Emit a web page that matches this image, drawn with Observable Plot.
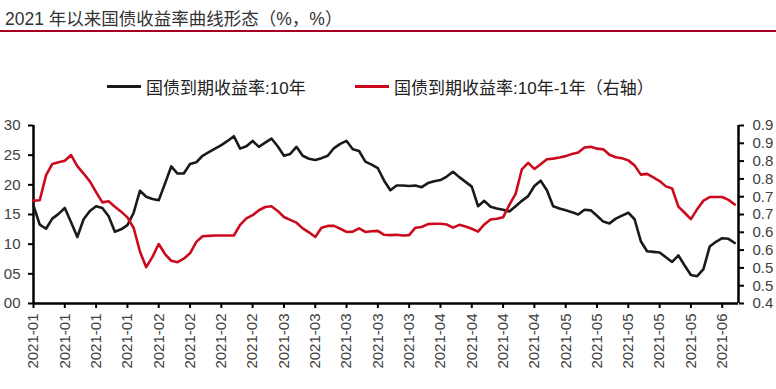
<!DOCTYPE html>
<html><head><meta charset="utf-8">
<script src="https://cdn.jsdelivr.net/npm/d3@7"></script>
<script src="https://cdn.jsdelivr.net/npm/@observablehq/plot@0.6"></script>
<style>
body{margin:0;background:#fff;width:776px;height:389px;overflow:hidden;position:relative;font-family:"Liberation Sans",Arial,"Noto Sans CJK SC",sans-serif;}
#title{position:absolute;left:5px;top:5px;font-size:17.5px;color:#333;white-space:nowrap;font-family:"Liberation Sans","Noto Sans CJK SC",sans-serif;}
#rule{position:absolute;left:0;top:30px;width:776px;height:2px;background:#a50021;}
.leg{position:absolute;top:74px;display:flex;align-items:center;font-size:17px;color:#222;white-space:nowrap;font-family:"Liberation Sans","Noto Sans CJK SC",sans-serif;}
.sw{display:inline-block;width:34px;height:3px;margin-right:5px;}
#chart{position:absolute;left:0;top:100px;}
</style></head>
<body>
<div id="title">2021 年以来国债收益率曲线形态（%，%）</div>
<div id="rule"></div>
<div class="leg" style="left:107px"><span class="sw" style="background:#1a1a1a"></span><span id="lg1"></span></div>
<div class="leg" style="left:355px"><span class="sw" style="background:#cc0a1e"></span><span id="lg2"></span></div>
<div id="chart"></div>
<script>
const seriesNames = ["国债到期收益率:10年", "国债到期收益率:10年-1年（右轴）"];
const yield10 = [
3.165,3.133,3.126,3.143,3.151,3.161,3.137,3.112,3.142,3.156,
3.164,3.161,3.147,3.121,3.125,3.132,3.153,3.190,3.180,3.176,
3.174,3.202,3.231,3.219,3.219,3.235,3.238,3.249,3.255,3.261,
3.267,3.274,3.282,3.261,3.265,3.274,3.264,3.271,3.278,3.265,
3.249,3.252,3.264,3.249,3.244,3.242,3.245,3.249,3.262,3.269,
3.274,3.260,3.257,3.239,3.234,3.228,3.207,3.191,3.199,3.199,
3.198,3.199,3.196,3.203,3.206,3.208,3.214,3.222,3.213,3.205,
3.197,3.164,3.173,3.163,3.160,3.158,3.155,3.164,3.173,3.181,
3.198,3.207,3.191,3.164,3.160,3.157,3.154,3.150,3.158,3.157,
3.148,3.138,3.135,3.143,3.148,3.153,3.142,3.105,3.088,3.087,
3.086,3.078,3.070,3.081,3.064,3.048,3.046,3.058,3.096,3.104,
3.110,3.109,3.102];
const spread = [
0.739,0.740,0.810,0.842,0.847,0.851,0.867,0.836,0.815,0.793,
0.763,0.734,0.737,0.722,0.708,0.692,0.662,0.596,0.552,0.581,
0.617,0.589,0.570,0.566,0.576,0.591,0.623,0.639,0.640,0.641,
0.641,0.641,0.641,0.671,0.689,0.698,0.712,0.721,0.723,0.710,
0.693,0.685,0.677,0.661,0.650,0.637,0.663,0.668,0.668,0.660,
0.651,0.652,0.661,0.651,0.653,0.654,0.643,0.642,0.643,0.641,
0.642,0.663,0.665,0.673,0.674,0.674,0.672,0.663,0.671,0.666,
0.660,0.652,0.672,0.686,0.688,0.692,0.727,0.758,0.827,0.845,
0.828,0.841,0.855,0.857,0.860,0.864,0.870,0.874,0.888,0.890,
0.885,0.883,0.868,0.861,0.858,0.852,0.838,0.812,0.814,0.804,
0.794,0.779,0.773,0.722,0.705,0.687,0.715,0.739,0.749,0.749,
0.749,0.741,0.728];
const leftTicks = [3.00,3.05,3.10,3.15,3.20,3.25,3.30];
const leftTickLabels = ["00","05","10","15","20","25","30"];
const rightTicks = [0.45,0.50,0.55,0.60,0.65,0.70,0.75,0.80,0.85,0.90,0.95];
const rightTickLabels = ["0.4","0.5","0.5","0.6","0.6","0.7","0.7","0.8","0.8","0.9","0.9"];
const xTickDays = [0,5,10,15,20,25,30,35,40,45,50,55,60,65,70,75,80,85,90,95,100,105,110];
const xTickLabels = ["2021-01","2021-01","2021-01","2021-01","2021-02","2021-02","2021-02","2021-02",
"2021-03","2021-03","2021-03","2021-03","2021-03","2021-04","2021-04","2021-04","2021-04",
"2021-05","2021-05","2021-05","2021-05","2021-05","2021-06"];
const xDomain = [0, 112.6];
const leftDomain = [3.00, 3.30];
const rightDomain = [0.45, 0.95];

document.getElementById("lg1").textContent = seriesNames[0];
document.getElementById("lg2").textContent = seriesNames[1];

const toLeft = d3.scaleLinear(rightDomain, leftDomain);
const blackData = yield10.map((v, i) => ({d: i, v}));
const redData = spread.map((v, i) => ({d: i, v: toLeft(v)}));
const leftMap = new Map(leftTicks.map((t, i) => [t, leftTickLabels[i]]));
const rightPos = rightTicks.map(toLeft);
const rightMap = new Map(rightPos.map((t, i) => [t, rightTickLabels[i]]));
const xMap = new Map(xTickDays.map((t, i) => [t, xTickLabels[i]]));

const chart = Plot.plot({
  width: 776, height: 289,
  marginLeft: 33, marginRight: 38, marginTop: 25, marginBottom: 86,
  x: {domain: xDomain, label: null},
  y: {domain: leftDomain, label: null},
  style: {fontFamily: '"Liberation Sans", Arial, sans-serif', fontSize: "15px", color: "#000", background: "transparent"},
  marks: [
    Plot.axisY(leftTicks, {anchor: "left", label: null, tickSize: 5, tickPadding: 8, strokeWidth: 2, fill: "#404040", tickFormat: d => leftMap.get(d)}),
    Plot.axisY(rightPos, {anchor: "right", label: null, tickSize: 5, tickPadding: 9, strokeWidth: 2, fill: "#404040", tickFormat: d => rightMap.get(d)}),
    Plot.axisX(xTickDays, {anchor: "bottom", label: null, tickSize: 5, tickPadding: 5, strokeWidth: 2, tickRotate: -90, fill: "#404040", tickFormat: d => xMap.get(d)}),
    Plot.ruleX([xDomain[0]], {y1: leftDomain[0], y2: leftDomain[1], stroke: "#000", strokeWidth: 2.5}),
    Plot.ruleX([xDomain[1]], {y1: leftDomain[0], y2: leftDomain[1], stroke: "#000", strokeWidth: 2.5}),
    Plot.ruleY([leftDomain[0]], {x1: xDomain[0], x2: xDomain[1], stroke: "#000", strokeWidth: 2.5}),
    Plot.line(blackData, {x: "d", y: "v", stroke: "#1a1a1a", strokeWidth: 2.6}),
    Plot.line(redData, {x: "d", y: "v", stroke: "#cc0a1e", strokeWidth: 2.6})
  ]
});
document.getElementById("chart").appendChild(chart);
</script>
</body></html>
